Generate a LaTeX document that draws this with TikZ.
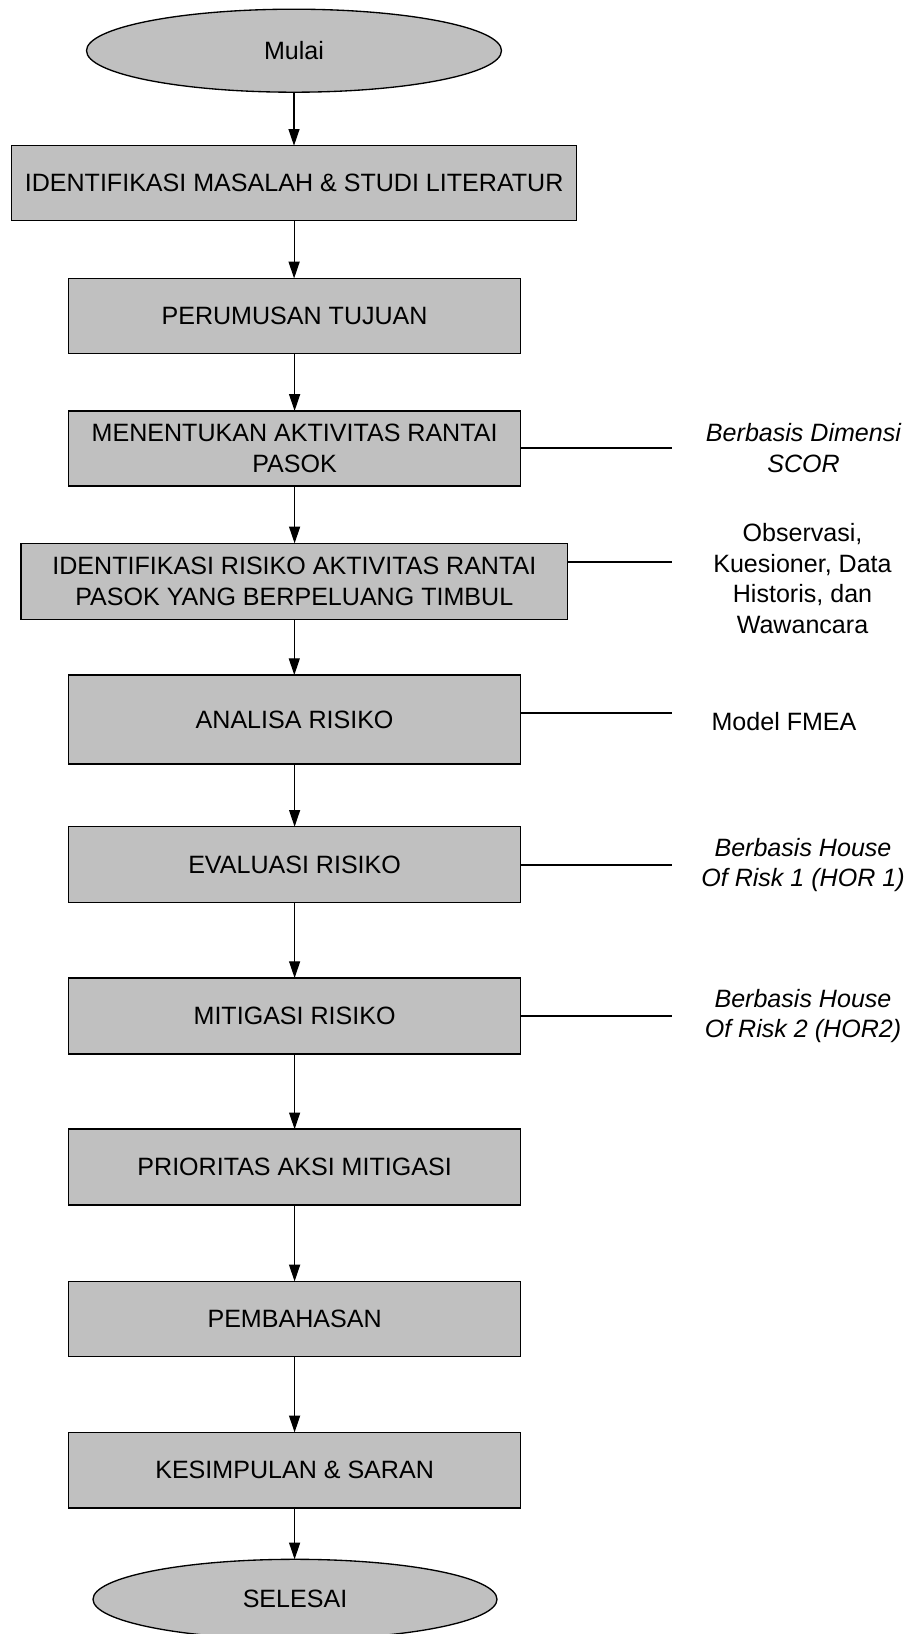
\documentclass[tikz,border=0pt]{standalone}
\usepackage{fontspec}
\setmainfont{Liberation Sans}
\usetikzlibrary{shapes.geometric,arrows.meta}
\definecolor{boxgray}{HTML}{C0C0C0}
\tikzset{
  txt/.style={font={\fontsize{18.8}{23.1}\selectfont}},
  procbox/.style n args={2}{txt, rectangle, draw=black, line width=1.1pt,
    fill=boxgray, inner sep=0pt, outer sep=0pt, align=center,
    minimum width=#1*0.75pt, minimum height=#2*0.75pt},
  terminal/.style n args={2}{txt, ellipse, draw=black, line width=1pt,
    fill=boxgray, inner sep=0pt, outer sep=0pt,
    minimum width=#1*0.75pt, minimum height=#2*0.75pt},
  flow/.style={draw=black, line width=0.9pt,
    -{Triangle[length=12.5pt,width=8.25pt]}},
  sideline/.style={draw=black, line width=1.5pt},
  note/.style={txt, align=center, inner sep=0pt},
  noteit/.style={note, font={\fontsize{18.8}{23.1}\selectfont\itshape}}
}
\begin{document}
\begin{tikzpicture}[x=0.75pt,y=-0.75pt]
\useasboundingbox (0,0) rectangle (906,1634);

% main column
\node[terminal={415}{83}] (start) at (294,50.7) {Mulai};
\node[procbox={564.8}{75}] (b1) at (294.1,183.2) {IDENTIFIKASI MASALAH \& STUDI LITERATUR};
\node[procbox={451.7}{75}] (b2) at (294.6,315.9) {PERUMUSAN TUJUAN};
\node[procbox={451.7}{75}] (b3) at (294.6,448.4) {MENENTUKAN AKTIVITAS RANTAI\\PASOK};
\node[procbox={546.8}{76}] (b4) at (294.3,581.3) {IDENTIFIKASI RISIKO AKTIVITAS RANTAI\\PASOK YANG BERPELUANG TIMBUL};
\node[procbox={451.7}{89}] (b5) at (294.6,719.5) {ANALISA RISIKO};
\node[procbox={451.7}{76}] (b6) at (294.6,864.7) {EVALUASI RISIKO};
\node[procbox={451.7}{76}] (b7) at (294.6,1016) {MITIGASI RISIKO};
\node[procbox={451.7}{76}] (b8) at (294.6,1167.2) {PRIORITAS AKSI MITIGASI};
\node[procbox={451.7}{75}] (b9) at (294.6,1318.9) {PEMBAHASAN};
\node[procbox={451.7}{75.7}] (b10) at (294.6,1470.2) {KESIMPULAN \& SARAN};
\node[terminal={404}{80}] (stop) at (295,1599.3) {SELESAI};

% connectors along the column
\draw[flow] (start.south) -- (start.south |- b1.north);
\draw[flow] (b1.south) -- (b1.south |- b2.north);
\draw[flow] (b2.south) -- (b2.south |- b3.north);
\draw[flow] (b3.south) -- (b3.south |- b4.north);
\draw[flow] (b4.south) -- (b4.south |- b5.north);
\draw[flow] (b5.south) -- (b5.south |- b6.north);
\draw[flow] (b6.south) -- (b6.south |- b7.north);
\draw[flow] (b7.south) -- (b7.south |- b8.north);
\draw[flow] (b8.south) -- (b8.south |- b9.north);
\draw[flow] (b9.south) -- (b9.south |- b10.north);
\draw[flow] (b10.south) -- (b10.south |- stop.north);

% side notes
\coordinate (e3) at (672,448.4);
\coordinate (e4) at (672,562);
\coordinate (e5) at (672,713);
\coordinate (e6) at (672,864.5);
\coordinate (e7) at (672,1016);
\draw[sideline] (b3.east |- e3) -- (e3);
\draw[sideline] (b4.east |- e4) -- (e4);
\draw[sideline] (b5.east |- e5) -- (e5);
\draw[sideline] (b6.east |- e6) -- (e6);
\draw[sideline] (b7.east |- e7) -- (e7);

\node[noteit] (n3) at (803.5,448) {Berbasis Dimensi\\SCOR};
\node[note] (n4) at (802.5,578.5) {Observasi,\\Kuesioner, Data\\Historis, dan\\Wawancara};
\node[note] (n5) at (784,722) {Model FMEA};
\node[noteit] (n6) at (803,865) {Berbasis House\\Of Risk 1 (HOR 1)};
\node[noteit] (n7) at (803,1016) {Berbasis House\\Of Risk 2 (HOR2)};
\end{tikzpicture}
\end{document}
